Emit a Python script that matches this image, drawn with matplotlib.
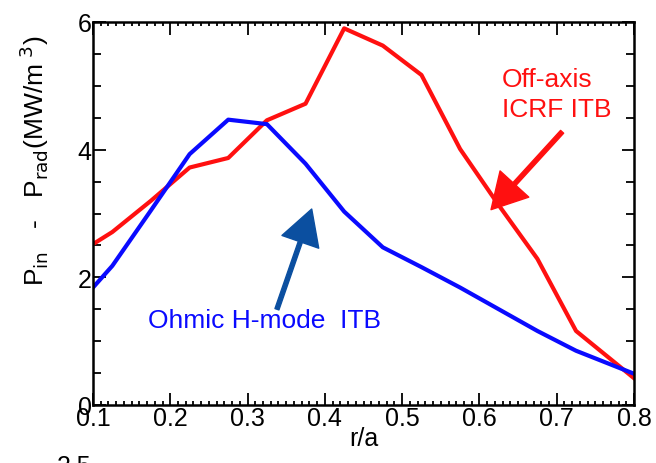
import numpy as np
import matplotlib
matplotlib.use('Agg')
import matplotlib.pyplot as plt
from matplotlib.ticker import MultipleLocator

plt.rcParams['font.family'] = ['Liberation Sans', 'DejaVu Sans']

r_a = [0.1, 0.125, 0.175, 0.225, 0.275, 0.325, 0.375, 0.425, 0.475,
       0.525, 0.575, 0.625, 0.675, 0.725, 0.8]
icrf = [2.52, 2.71, 3.2, 3.72, 3.87, 4.46, 4.72, 5.9, 5.63,
        5.17, 4.01, 3.13, 2.29, 1.16, 0.42]
ohmic = [1.84, 2.18, 3.05, 3.93, 4.47, 4.4, 3.78, 3.03, 2.47,
         2.16, 1.84, 1.5, 1.16, 0.85, 0.49]

fig = plt.figure(figsize=(6.56, 4.64), dpi=100)
ax = fig.add_axes([93/656, 1-406/464, (634-93)/656, (406-23)/464])

ax.plot(r_a, icrf, color='#ff1010', lw=3)
ax.plot(r_a, ohmic, color='#0a0aff', lw=3)

ax.set_xlim(0.1, 0.8)
ax.set_ylim(0, 6)
ax.xaxis.set_major_locator(MultipleLocator(0.1))
ax.xaxis.set_minor_locator(MultipleLocator(0.01))
ax.yaxis.set_major_locator(MultipleLocator(2))
ax.yaxis.set_minor_locator(MultipleLocator(0.5))
ax.tick_params(which='both', direction='in', top=True, right=True,
               labelsize=18, width=1.3, pad=1)
ax.tick_params(which='major', length=9)
ax.tick_params(axis='x', which='minor', length=3)
ax.tick_params(axis='y', which='minor', length=6)
for s in ax.spines.values():
    s.set_linewidth(1.8)

ax.set_xlabel('r/a', fontsize=18, labelpad=-3)
ax.set_ylabel(r'P$_{\rm in}$   -   P$_{\rm rad}$(MW/m$^{\ 3}$)', fontsize=19)
ax.yaxis.set_label_coords(-0.078, 0.64)

ax.text(0.629, 4.87, 'Off-axis\nICRF ITB', color='#ff1010', fontsize=19,
        ha='left', va='center', linespacing=1.3)
ax.text(0.3225, 1.33, 'Ohmic H-mode  ITB', color='#0a0aff', fontsize=19,
        ha='center', va='center')

ax.annotate('', xy=(0.615, 3.06), xytext=(0.707, 4.28),
            arrowprops=dict(width=3, headwidth=28, headlength=25,
                            color='#ff1010', shrink=0))
ax.annotate('', xy=(0.383, 3.07), xytext=(0.338, 1.5),
            arrowprops=dict(width=3, headwidth=28, headlength=25,
                            color='#0b4fa0', shrink=0))

fig.text(74/656, 1-455/464, '2.5', fontsize=18, ha='center', va='top')

fig.savefig('out.png', dpi=100)
